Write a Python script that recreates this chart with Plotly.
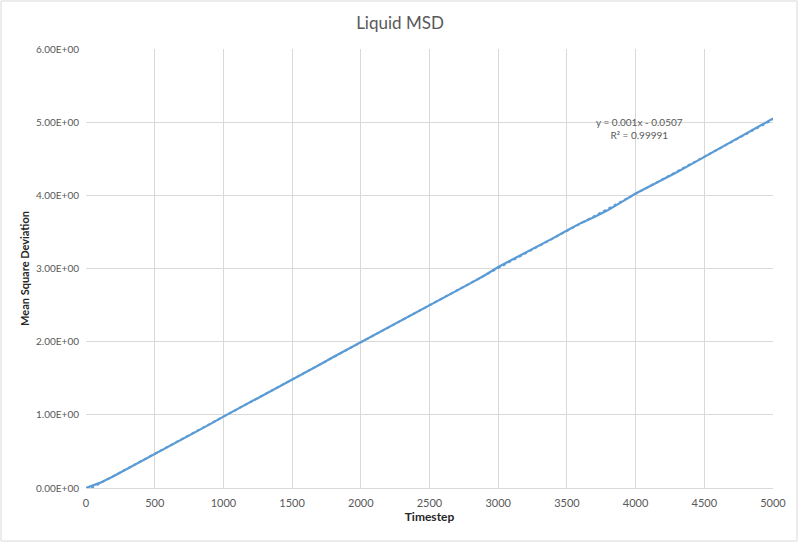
import numpy as np
import plotly.graph_objects as go

timestep = list(range(0, 5001, 100))
msd = [0.00, 0.07, 0.16, 0.26, 0.36, 0.465, 0.565, 0.665, 0.765, 0.87,
       0.975, 1.075, 1.175, 1.275, 1.375, 1.48, 1.585, 1.685, 1.79, 1.89,
       1.995, 2.095, 2.195, 2.295, 2.39, 2.49, 2.595, 2.70, 2.80, 2.905,
       3.02, 3.12, 3.215, 3.315, 3.415, 3.52, 3.62, 3.705, 3.80, 3.91,
       4.025, 4.12, 4.215, 4.315, 4.42, 4.525, 4.63, 4.735, 4.84, 4.945,
       5.05]

y_tickvals = [0, 1, 2, 3, 4, 5, 6]
y_ticktext = ["0.00E+00", "1.00E+00", "2.00E+00", "3.00E+00", "4.00E+00", "5.00E+00", "6.00E+00"]
x_tickvals = [0, 500, 1000, 1500, 2000, 2500, 3000, 3500, 4000, 4500, 5000]

slope, intercept = np.polyfit(timestep, msd, 1)
trend_x = np.array([0, 5000])
trend_y = slope * trend_x + intercept

blue = "#5B9BD5"
grey_text = "#595959"
grid = "#D9D9D9"
FONT = "Lato"

fig = go.Figure()
fig.add_trace(go.Scatter(x=trend_x, y=trend_y, mode="lines",
                         line=dict(color=blue, width=2, dash="dot"),
                         showlegend=False, hoverinfo="skip"))
fig.add_trace(go.Scatter(x=timestep, y=msd, mode="lines",
                         line=dict(color=blue, width=2.2),
                         showlegend=False))

ml, mr, mt, mb = 86, 27, 49, 56
W, H = 800, 544
pw, ph = W - ml - mr, H - mt - mb

fig.add_annotation(x=4030, y=4.92, xref="x", yref="y",
                   text="y = 0.001x - 0.0507<br>R² = 0.99991",
                   showarrow=False, align="center",
                   font=dict(family=FONT, size=10, color=grey_text))

fig.add_shape(type="rect", xref="paper", yref="paper",
              x0=-(ml - 1) / pw, x1=1 + (mr - 3) / pw,
              y0=-(mb - 3) / ph, y1=1 + (mt - 1) / ph,
              line=dict(color=grid, width=1), fillcolor="rgba(0,0,0,0)", layer="below")

fig.update_layout(
    width=W, height=H,
    margin=dict(l=ml, r=mr, t=mt, b=mb),
    paper_bgcolor="white", plot_bgcolor="white",
    font=dict(family=FONT, color=grey_text),
    title=dict(text="Liquid MSD", x=0.5, xanchor="center", y=1 - 23 / H, yanchor="middle",
               font=dict(family=FONT, size=17, color=grey_text)),
    xaxis=dict(range=[0, 5000], tickvals=x_tickvals, showgrid=True, gridcolor=grid, gridwidth=1,
               zeroline=False, showline=True, linecolor=grid, linewidth=1,
               ticks="outside", ticklen=5, tickcolor="rgba(0,0,0,0)",
               tickfont=dict(family=FONT, size=11, color=grey_text),
               title=dict(text="<b>Timestep</b>", standoff=4,
                          font=dict(family=FONT, size=12, color="#262626"))),
    yaxis=dict(range=[0, 6], tickvals=y_tickvals, ticktext=y_ticktext, showgrid=True,
               gridcolor=grid, gridwidth=1, zeroline=False, showline=False,
               ticks="outside", ticklen=4, tickcolor="rgba(0,0,0,0)",
               tickfont=dict(family=FONT, size=10, color=grey_text),
               title=dict(text="<b>Mean Square Deviation</b>", standoff=4,
                          font=dict(family=FONT, size=11, color="#262626"))),
)

fig.write_html("out.html")
